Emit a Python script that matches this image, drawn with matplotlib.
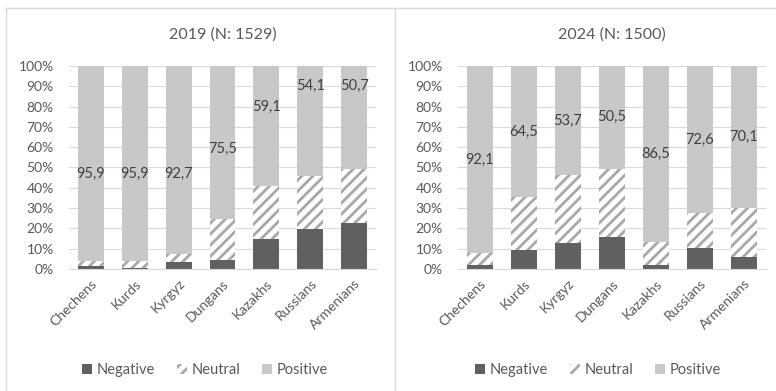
import matplotlib

matplotlib.use("Agg")
import matplotlib.pyplot as plt
from matplotlib.patches import Patch
from matplotlib.lines import Line2D

plt.rcParams["font.family"] = ["Lato", "DejaVu Sans"]
plt.rcParams["hatch.linewidth"] = 2.0

groups = ["Chechens", "Kurds", "Kyrgyz", "Dungans", "Kazakhs", "Russians", "Armenians"]

neg_2019 = [1.5, 0.7, 3.3, 4.3, 15.0, 19.9, 22.9]
neu_2019 = [2.6, 3.4, 4.0, 20.2, 25.9, 26.0, 26.4]
pos_2019 = [95.9, 95.9, 92.7, 75.5, 59.1, 54.1, 50.7]

neg_2024 = [1.8, 9.4, 12.8, 15.6, 1.8, 10.2, 5.8]
neu_2024 = [6.1, 26.1, 33.5, 33.9, 11.7, 17.2, 24.1]
pos_2024 = [92.1, 64.5, 53.7, 50.5, 86.5, 72.6, 70.1]

# hand-placed label heights for the 2019 panel (default is middle of segment)
label_y_2019 = [47, 47, 47, 59, 80, 90, 90]

TEXT = "#595959"
NEG_C = "#606060"
POS_C = "#c8c8c8"
HATCH_C = "#a8a8a8"
GRID_C = "#d9d9d9"

W, H = 776, 391
fig = plt.figure(figsize=(W / 100, H / 100), dpi=100)


def px_axes(x0, x1, y_top, y_bot):
    return fig.add_axes([x0 / W, 1 - y_bot / H, (x1 - x0) / W, (y_bot - y_top) / H])


def draw_panel(ax, title, neg, neu, pos, label_y=None):
    x = range(len(groups))
    width = 0.59
    ax.bar(x, neg, width, color=NEG_C, linewidth=0, zorder=2)
    ax.bar(x, neu, width, bottom=neg, color="white", edgecolor=HATCH_C,
           hatch="///", linewidth=0, zorder=2)
    base = [a + b for a, b in zip(neg, neu)]
    ax.bar(x, pos, width, bottom=base, color=POS_C, linewidth=0, zorder=2)

    for i, (b, p) in enumerate(zip(base, pos)):
        y = label_y[i] if label_y else b + p / 2
        ax.text(i, y, f"{p:.1f}".replace(".", ","), ha="center", va="center",
                fontsize=10.5, color="#404040", zorder=3)

    ax.set_xlim(-0.5, len(groups) - 0.5)
    ax.set_ylim(0, 100)
    ax.set_yticks(range(0, 101, 10))
    ax.set_yticklabels([f"{v}%" for v in range(0, 101, 10)])
    ax.yaxis.grid(True, color=GRID_C, linewidth=0.8, zorder=0)
    ax.set_axisbelow(True)
    for s in ["top", "right", "left"]:
        ax.spines[s].set_visible(False)
    ax.spines["bottom"].set_color(GRID_C)
    ax.spines["bottom"].set_linewidth(0.8)
    ax.tick_params(length=0, colors=TEXT, labelsize=10)
    ax.tick_params(axis="y", pad=11)
    ax.set_xticks(list(x))
    ax.set_xticklabels(groups, rotation=45, ha="right", rotation_mode="anchor")
    ax.tick_params(axis="x", pad=6)
    ax.set_title(title, color=TEXT, fontsize=11.5, pad=20)


ax1 = px_axes(69, 376, 66, 269)
ax2 = px_axes(458, 766, 66, 269)
draw_panel(ax1, "2019 (N: 1529)", neg_2019, neu_2019, pos_2019, label_y_2019)
draw_panel(ax2, "2024 (N: 1500)", neg_2024, neu_2024, pos_2024)

# chart area borders
for xs, ys in [([6, W], [8, 8]), ([6, 6], [8, H]), ([395, 395], [8, H])]:
    fig.add_artist(Line2D([v / W for v in xs], [1 - v / H for v in ys],
                          color="#d9d9d9", linewidth=1.0))

handles = [
    Patch(facecolor=NEG_C, linewidth=0),
    Patch(facecolor="white", edgecolor=HATCH_C, hatch="///", linewidth=0),
    Patch(facecolor=POS_C, linewidth=0),
]
names = ["Negative", "Neutral", "Positive"]
for cx in (205, 598):
    fig.legend(handles, names, loc="center", bbox_to_anchor=(cx / W, 1 - 370 / H),
               ncol=3, frameon=False, fontsize=10.5, labelcolor=TEXT,
               handlelength=0.7, handleheight=0.7, handletextpad=0.3,
               columnspacing=1.5)

fig.savefig("out.png", dpi=100)
